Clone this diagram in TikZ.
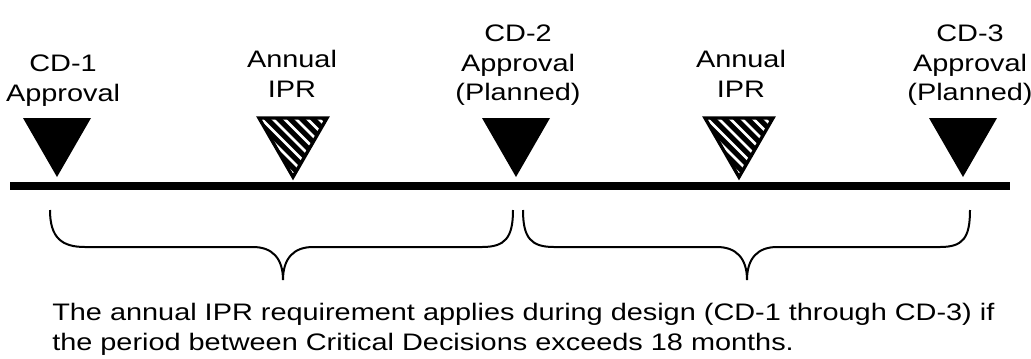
\documentclass[tikz,border=0pt]{standalone}
\usepackage{fontspec}
\setmainfont{Liberation Sans}[FakeStretch=1.21]
\begin{document}
\begin{tikzpicture}[x=0.75pt,y=-0.75pt,
  lbl/.style={anchor=north,align=center,inner sep=0pt,font=\fontsize{17.9pt}{22.1pt}\selectfont},
  axis/.style={line width=6pt},
  bracket/.style={line width=1.5pt},
  soltri/.pic={\fill[black] (-34,-59) -- (34,-59) -- (0,0) -- cycle;},
  hatchtri/.pic={
    \begin{scope}
      \clip (-34,-59) -- (34,-59) -- (0,0) -- cycle;
      \foreach \c in {-72.75,-61.25,-49.75,-38.25,-26.75,-15.25,-3.75,7.75,19.25,30.75}
        \draw[line width=3.9pt] (\c-20,-79) -- (\c+80,21);
    \end{scope}
    \draw[line width=2.5pt,line join=miter] (-34,-59) -- (34,-59) -- (0,0) -- cycle;}
]
\useasboundingbox (0,0) rectangle (1031,358);
% time line
\coordinate (ls) at (10,186);
\coordinate (le) at (1010,186);
\draw[axis] (ls) -- (le);
% milestones
\pic at (57,177) {soltri};
\pic at (293,177) {hatchtri};
\pic at (516,177) {soltri};
\pic at (739,177) {hatchtri};
\pic at (963,177) {soltri};
% labels
\node[lbl] (l1) at (63,55) {CD-1\\Approval};
\node[lbl] (l2) at (292,50) {Annual\\IPR};
\node[lbl] (l3) at (518,25) {CD-2\\Approval\\(Planned)};
\node[lbl] (l4) at (741,50) {Annual\\IPR};
\node[lbl] (l5) at (970,25) {CD-3\\Approval\\(Planned)};
% braces
\draw[bracket] (50,210) .. controls (50,238) and (62,247) .. (85,247) -- (253,247)
  .. controls (272,247) and (283,258) .. (283,280)
  .. controls (283,258) and (294,247) .. (313,247) -- (482,247)
  .. controls (505,247) and (513,238) .. (513,210);
\draw[bracket] (523,210) .. controls (523,238) and (531,247) .. (554,247) -- (717,247)
  .. controls (736,247) and (747,258) .. (747,280)
  .. controls (747,258) and (758,247) .. (777,247) -- (940,247)
  .. controls (963,247) and (970,238) .. (970,210);
% note
\node[lbl,anchor=north west,align=left] (note) at (52,303)
  {The annual IPR requirement applies during design (CD-1 through CD-3) if\\
   the period between Critical Decisions exceeds 18 months.};
\end{tikzpicture}
\end{document}
